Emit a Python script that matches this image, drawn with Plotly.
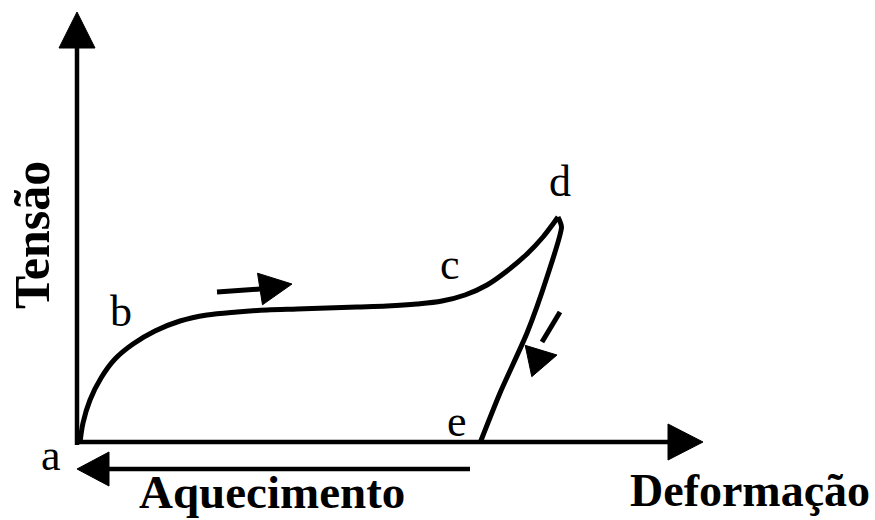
import numpy as np
import plotly.graph_objects as go

# ---- data (schematic units; origin = axes intersection) ----
# loading curve a -> b -> c -> d
load_x = [3, 6, 13, 24, 38, 56, 78, 103, 130, 160, 190, 220, 250, 280, 310, 340, 365, 388, 410, 430, 450, 466, 476, 481]
load_y = [0, 20, 43, 65, 84, 99, 112, 122, 128, 131, 133, 134, 135, 136, 137, 139, 142, 148, 158, 172, 189, 206, 219, 226]
# unloading d -> e
unload_x = [481, 484.5, 470, 450, 423, 403]
unload_y = [226, 216, 166, 110, 50, 0]

point_labels = ["a", "b", "c", "d", "e"]
point_label_x = [-26, 44, 373, 483, 380]
point_label_y = [-12, 132, 179, 262, 22]

axis_titles = ["Tensão", "Aquecimento", "Deformação"]

X_AXIS_END = 626
Y_AXIS_END = 431
HEAT_ARROW_START = 393
HEAT_ARROW_Y = -26

# direction arrows: (tail, shaft end, head base mid, tip, half width)
dir_arrows = [
    ((140, 151), (183, 154), (183, 154), (215, 159), 16),
    ((483, 131), (465, 101), (451.5, 82), (480, 88), 16),
]

fig = go.Figure()


def line(xs, ys, w):
    fig.add_trace(go.Scatter(x=xs, y=ys, mode="lines",
                             line=dict(color="black", width=w),
                             hoverinfo="skip", showlegend=False))


def head(base_mid, tip, half_w):
    b = np.array(base_mid, float)
    t = np.array(tip, float)
    d = t - b
    n = np.array([-d[1], d[0]]) / np.hypot(*d)
    p1 = b + n * half_w
    p2 = b - n * half_w
    fig.add_trace(go.Scatter(x=[p1[0], t[0], p2[0], p1[0]],
                             y=[p1[1], t[1], p2[1], p1[1]],
                             mode="lines", fill="toself", fillcolor="black",
                             line=dict(color="black", width=1),
                             hoverinfo="skip", showlegend=False))


# axes
line([0, 0], [-2, Y_AXIS_END - 34], 4.5)
head((0, Y_AXIS_END - 36), (0, Y_AXIS_END), 18)
line([0, X_AXIS_END - 34], [1, 1], 4.5)
head((X_AXIS_END - 35, 1), (X_AXIS_END, 1), 18)
# heating arrow
line([HEAT_ARROW_START, 30], [HEAT_ARROW_Y, HEAT_ARROW_Y], 4.5)
head((32, HEAT_ARROW_Y), (0, HEAT_ARROW_Y), 17)

# curve
fig.add_trace(go.Scatter(x=load_x, y=load_y, mode="lines",
                         line=dict(color="black", width=5, shape="spline", smoothing=1.0),
                         hoverinfo="skip", showlegend=False))
fig.add_trace(go.Scatter(x=unload_x, y=unload_y, mode="lines",
                         line=dict(color="black", width=5, shape="spline", smoothing=0.6),
                         hoverinfo="skip", showlegend=False))

for tail, send, bmid, tip, hw in dir_arrows:
    line([tail[0], send[0]], [tail[1], send[1]], 5)
    head(bmid, tip, hw)

serif = "Liberation Serif, Times New Roman, serif"
for t, x, y in zip(point_labels, point_label_x, point_label_y):
    fig.add_annotation(x=x, y=y, text=t, showarrow=False,
                       font=dict(family=serif, size=44, color="black"),
                       xanchor="center", yanchor="middle")

fig.add_annotation(x=-45, y=208, text="<b>" + axis_titles[0] + "</b>", showarrow=False,
                   textangle=-90, font=dict(family=serif, size=50, color="black"),
                   xanchor="center", yanchor="middle", borderpad=0)
fig.add_annotation(x=195, y=-49, text="<b>" + axis_titles[1] + "</b>", showarrow=False,
                   font=dict(family=serif, size=47, color="black"),
                   xanchor="center", yanchor="middle", borderpad=0)
fig.add_annotation(x=673, y=-47, text="<b>" + axis_titles[2] + "</b>", showarrow=False,
                   font=dict(family=serif, size=46, color="black"),
                   xanchor="center", yanchor="middle", borderpad=0)

fig.update_layout(
    width=875, height=520,
    margin=dict(l=0, r=0, t=0, b=0),
    paper_bgcolor="white", plot_bgcolor="white",
    xaxis=dict(range=[-77, 798], visible=False, fixedrange=True),
    yaxis=dict(range=[-77, 443], visible=False, fixedrange=True),
    showlegend=False,
)
# remove the browser's default 8px body margin so the figure fills the window
fig.write_html("out.html",
               config={"displayModeBar": False},
               post_script="document.body.style.margin='0';document.body.style.overflow='hidden';")
